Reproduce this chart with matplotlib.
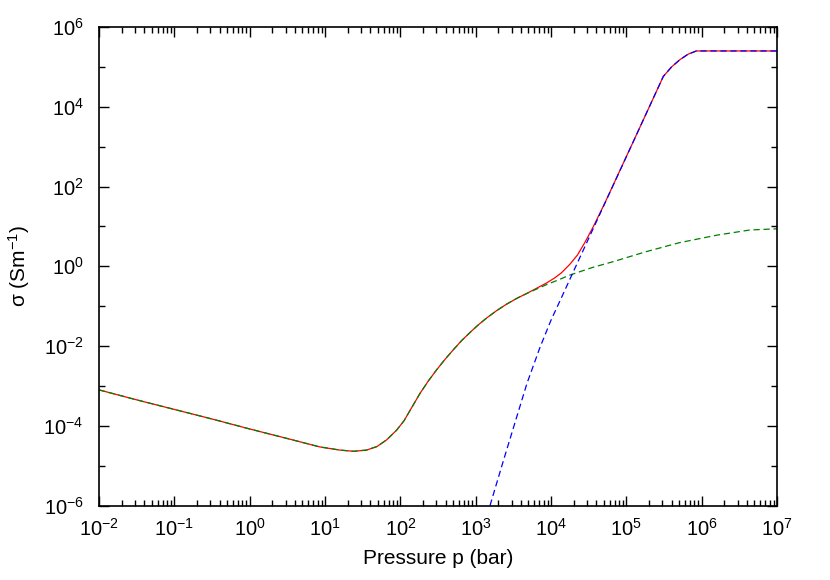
import matplotlib
matplotlib.use('Agg')
import matplotlib.pyplot as plt
import matplotlib.ticker as ticker
import numpy as np

#------------------------------------------------------------------------------
# values, as log10 exponents

# green dashed curve
green_logp = [-2.0, -1.5, -1.0, -0.5, 0.0, 0.5, 0.93, 1.2, 1.38, 1.55, 1.69,
              1.82, 1.95, 2.05, 2.13, 2.26, 2.37, 2.48, 2.59, 2.70, 2.81,
              2.93, 3.04, 3.15, 3.28, 3.41, 3.55, 3.68, 3.81, 3.94, 4.10,
              4.25, 4.55, 4.85, 5.25, 5.70, 6.20, 6.64, 7.0]
green_logs = [-3.10, -3.35, -3.59, -3.83, -4.08, -4.32, -4.53, -4.61, -4.64,
              -4.61, -4.52, -4.35, -4.11, -3.87, -3.61, -3.19, -2.88, -2.60,
              -2.34, -2.10, -1.87, -1.65, -1.46, -1.29, -1.11, -0.95, -0.80,
              -0.68, -0.57, -0.46, -0.34, -0.22, -0.03, 0.13, 0.36, 0.59,
              0.78, 0.91, 0.94]

# blue dashed curve
blue_logp = [3.19, 3.37, 3.52, 3.68, 3.85, 4.00, 4.14, 4.30, 4.50, 4.80,
             5.10, 5.30, 5.49, 5.60, 5.71, 5.82, 5.93, 6.5, 7.0]
blue_logs = [-6.0, -4.86, -3.93, -2.94, -2.05, -1.35, -0.78, -0.12, 0.70,
             1.93, 3.16, 3.98, 4.76, 5.00, 5.18, 5.32, 5.40, 5.40, 5.40]

# red solid curve (total)
red_logp = green_logp[:28] + [3.80, 3.94, 4.05, 4.14, 4.25, 4.35, 4.45, 4.56,
                              4.70, 4.85, 5.10, 5.30, 5.49, 5.60, 5.71, 5.82,
                              5.93, 6.5, 7.0]
red_logs = green_logs[:28] + [-0.56, -0.42, -0.29, -0.16, 0.05, 0.28, 0.60,
                              0.99, 1.53, 2.14, 3.16, 3.98, 4.76, 5.00, 5.18,
                              5.32, 5.40, 5.40, 5.40]

y_major = [1e-6, 1e-4, 1e-2, 1e0, 1e2, 1e4, 1e6]
y_minor = [1e-5, 1e-3, 1e-1, 1e1, 1e3, 1e5]

#------------------------------------------------------------------------------

plt.rcParams['font.family'] = ['Liberation Sans', 'DejaVu Sans']
plt.rcParams['mathtext.fontset'] = 'custom'
plt.rcParams['mathtext.rm'] = 'Liberation Sans'
plt.rcParams['mathtext.it'] = 'Liberation Sans:italic'
plt.rcParams['mathtext.default'] = 'regular'
plt.rcParams['axes.unicode_minus'] = False

fig = plt.figure(figsize=(8.3, 5.8), dpi=100)
ax = fig.add_axes([0.1193, 0.1284, 0.8169, 0.8250])

p = lambda v: 10 ** np.array(v)
ax.plot(p(red_logp), p(red_logs), color='#ff0000', lw=0.9)
ax.plot(p(green_logp), p(green_logs), color='#008000', lw=0.9,
        dashes=(5, 3))
ax.plot(p(blue_logp), p(blue_logs), color='#0000ff', lw=0.9,
        dashes=(5, 3))

ax.set_xscale('log')
ax.set_yscale('log')
ax.set_xlim(1e-2, 1e7)
ax.set_ylim(1e-6, 1e6)

ax.xaxis.set_major_locator(ticker.LogLocator(base=10, numticks=20))
ax.xaxis.set_minor_locator(ticker.LogLocator(base=10, subs=np.arange(2, 10),
                                             numticks=20))
ax.xaxis.set_minor_formatter(ticker.NullFormatter())
ax.yaxis.set_major_locator(ticker.FixedLocator(y_major))
ax.yaxis.set_minor_locator(ticker.FixedLocator(y_minor))
ax.yaxis.set_major_formatter(ticker.LogFormatterSciNotation())
ax.yaxis.set_minor_formatter(ticker.NullFormatter())

ax.tick_params(which='both', direction='in', top=True, right=True,
               width=1.0, labelsize=14.5)
ax.tick_params(axis='x', pad=9)
ax.tick_params(axis='y', pad=11)
ax.tick_params(which='major', length=7.5)
ax.tick_params(which='minor', length=4)
for s in ax.spines.values():
    s.set_linewidth(1.2)

ax.set_xlabel('Pressure p (bar)', fontsize=15)
ax.set_ylabel('σ (Sm$^{-1}$)', fontsize=15)
ax.xaxis.set_label_coords(0.5, -0.091)
ax.yaxis.set_label_coords(-0.099, 0.5)

fig.savefig('out.png', dpi=100)
